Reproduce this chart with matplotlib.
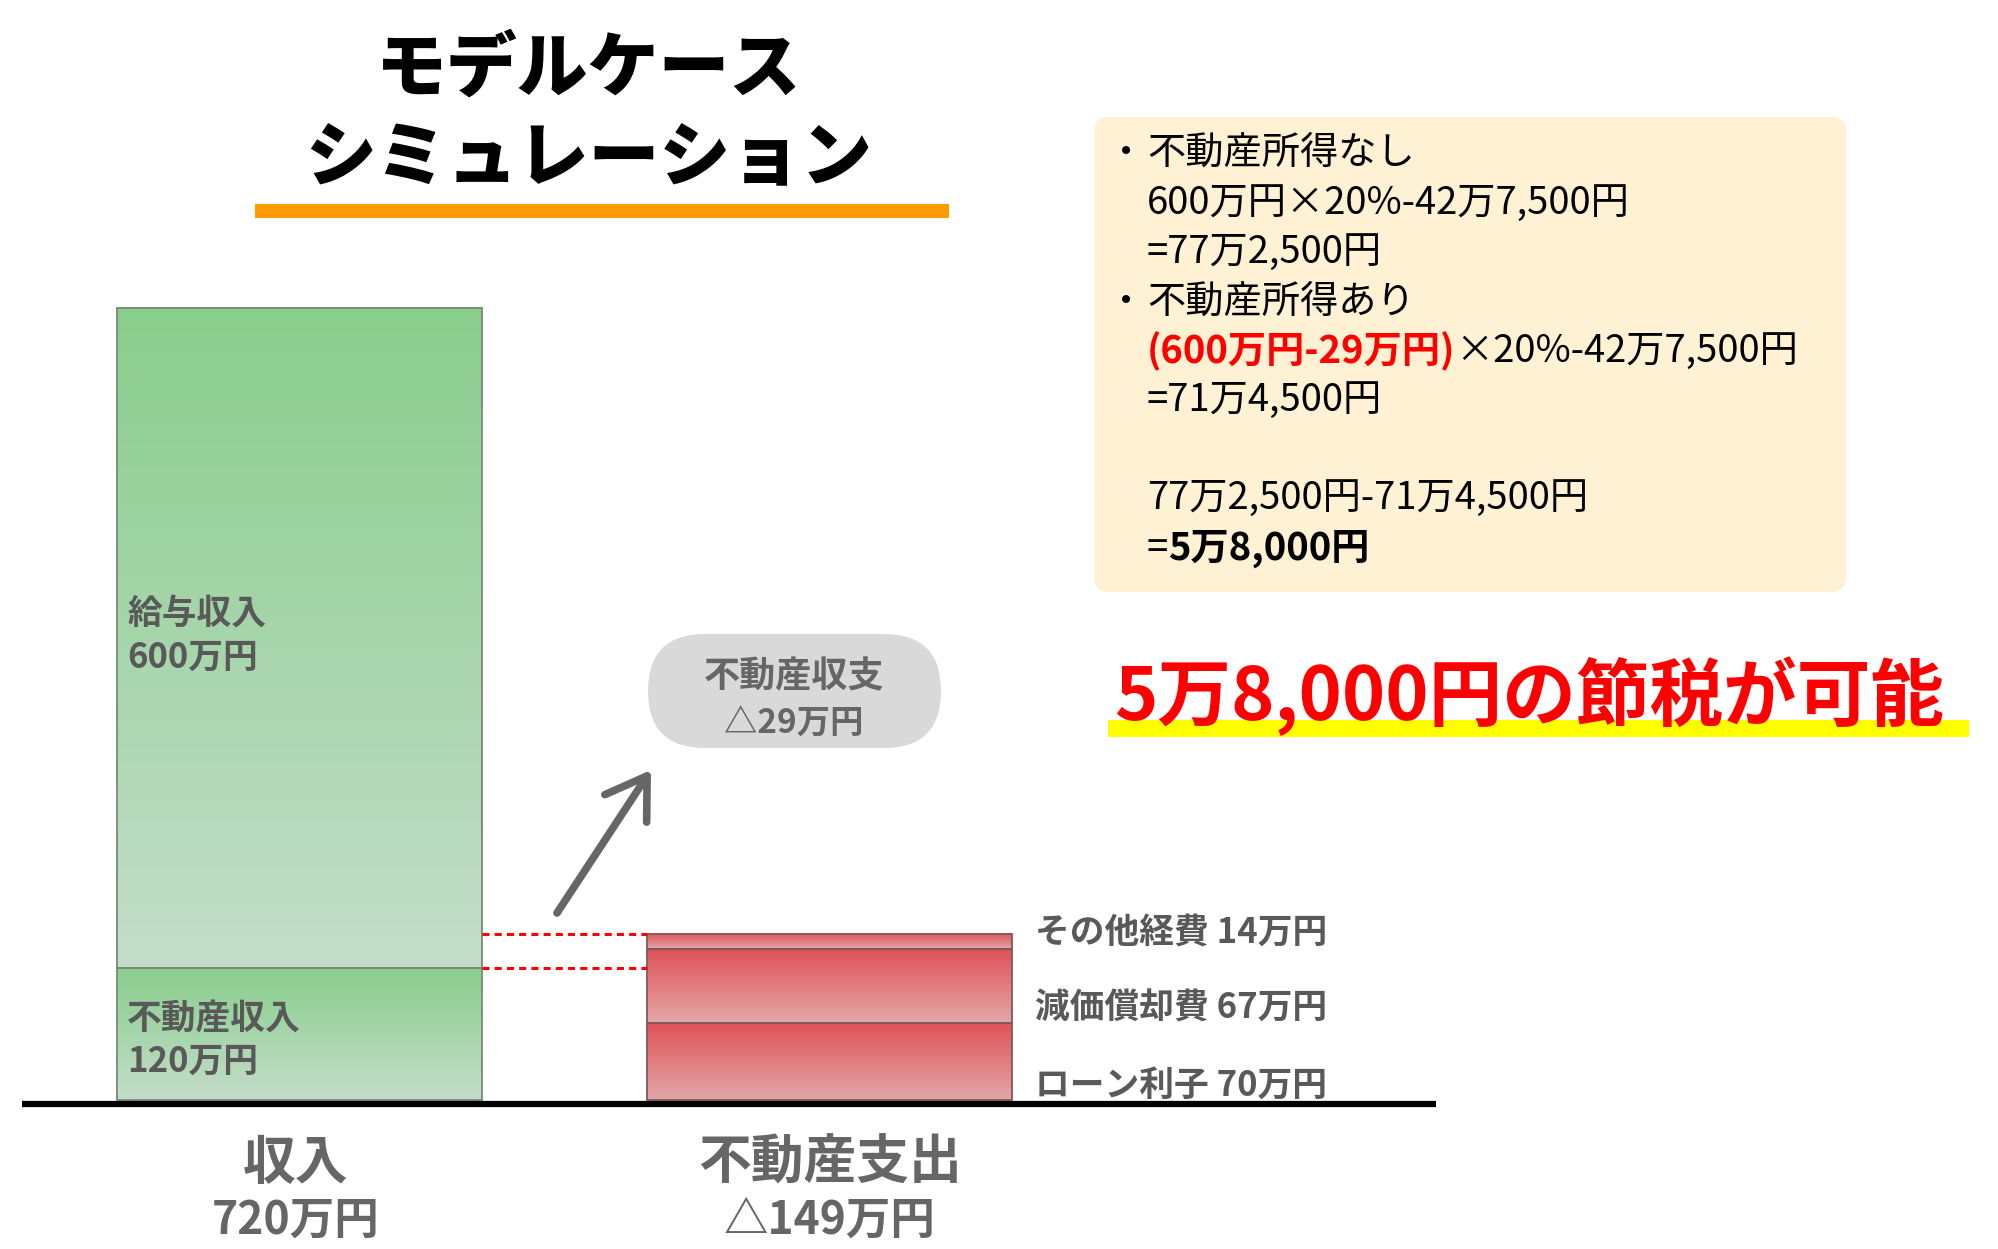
import matplotlib
matplotlib.use('Agg')
import matplotlib.pyplot as plt
import numpy as np
from matplotlib.patches import FancyBboxPatch, Rectangle
from matplotlib.colors import to_rgb

plt.rcParams['font.family'] = ['Noto Sans CJK JP', 'DejaVu Sans']

# --- data ---
categories = ['収入', '不動産支出']
category_totals = ['720万円', '△149万円']
income_names = ['不動産収入', '給与収入']
income_values = [120, 600]
expense_names = ['ローン利子', '減価償却費', 'その他経費']
expense_values = [70, 67, 14]
balance_title = '不動産収支'
balance_value = '△29万円'
headline = '5万8,000円の節税が可能'
title_lines = ['モデルケース', 'シミュレーション']

# note box: each line is a list of (text, color, weight); bullet flag
note_lines = [
    (True, [('不動産所得なし', 'black', 'normal')]),
    (False, [('600万円×20%-42万7,500円', 'black', 'normal')]),
    (False, [('=77万2,500円', 'black', 'normal')]),
    (True, [('不動産所得あり', 'black', 'normal')]),
    (False, [('(600万円-29万円)', '#FF0000', 'bold'), ('×20%-42万7,500円', 'black', 'normal')]),
    (False, [('=71万4,500円', 'black', 'normal')]),
    (False, []),
    (False, [('77万2,500円-71万4,500円', 'black', 'normal')]),
    (False, [('=', 'black', 'normal'), ('5万8,000円', 'black', 'bold')]),
]

W, H = 1999, 1249
fig = plt.figure(figsize=(W / 100, H / 100), dpi=100)
fig.patch.set_facecolor('white')

# main axes: y in 万円, 0 at pixel 1100, 1.1 px per 万円
ax = fig.add_axes([0, 0, 1, 1])
ax.axis('off')
px_per = 1.1
base_px = 1100
x_unit = 530.5
x0_px = 299.5
xlim = (-x0_px / x_unit, (W - x0_px) / x_unit)
ylim = (-(H - base_px) / px_per, base_px / px_per)
bw = 365 / x_unit


def grad_fill(x, bottom, height, top_c, bot_c, z=1):
    t = np.linspace(0, 1, 200)[:, None]
    img = (np.array(to_rgb(top_c)) * (1 - t) + np.array(to_rgb(bot_c)) * t)[:, None, :]
    ax.imshow(img, extent=[x - bw / 2, x + bw / 2, bottom, bottom + height],
              aspect='auto', origin='upper', zorder=z, interpolation='bilinear')


# income stack
bottom = 0
for v in income_values:
    grad_fill(0, bottom, v, '#89CE8C', '#C4DDCA')
    bottom += v
ax.bar([0] * len(income_values), income_values, bottom=np.cumsum([0] + income_values[:-1]),
       width=bw, fill=False, edgecolor='#778a79', linewidth=1.3, zorder=3)

# expense stack
bottom = 0
for v in expense_values:
    grad_fill(1, bottom, v, '#DF5256', '#E4A7A9')
    bottom += v
ax.bar([1] * len(expense_values), expense_values, bottom=np.cumsum([0] + expense_values[:-1]),
       width=bw, fill=False, edgecolor='#7e5a5a', linewidth=1.3, zorder=3)

# dotted connectors
exp_total = sum(expense_values)
for yv in [exp_total, income_values[0]]:
    ax.plot([bw / 2, 1 - bw / 2], [yv, yv], color='#FF0000', lw=2.2,
            linestyle=(0, (2.3, 1.7)), zorder=3)

ax.set_xlim(*xlim)
ax.set_ylim(*ylim)

# overlay in pixel coordinates
ov = fig.add_axes([0, 0, 1, 1], facecolor='none')
ov.axis('off')
ov.set_xlim(0, W)
ov.set_ylim(H, 0)

# baseline
ov.plot([22, 1436], [1104, 1104], color='black', lw=4.5, solid_capstyle='butt')

# title
ov.text(589, 70, title_lines[0], fontsize=51, fontweight='black', ha='center', va='center')
ov.text(589, 159, title_lines[1], fontsize=51, fontweight='black', ha='center', va='center')
ov.add_patch(Rectangle((255, 204), 694, 14, color='#FF9A00', lw=0))

# labels inside income bar
lab_c = '#595959'
ov.text(127, 613, income_names[1], fontsize=25, fontweight='bold', color=lab_c, va='center')
ov.text(127, 657, f'{income_values[1]}万円', fontsize=25, fontweight='bold', color=lab_c, va='center')
ov.text(127, 1019, income_names[0], fontsize=25, fontweight='bold', color=lab_c, va='center')
ov.text(127, 1061, f'{income_values[0]}万円', fontsize=25, fontweight='bold', color=lab_c, va='center')

# expense labels on the right
for name, v, yy in zip(expense_names, expense_values, [1085, 1008, 933]):
    ov.text(1035, yy, f'{name} {v}万円', fontsize=25, fontweight='bold', color=lab_c, va='center')

# category labels
cat_c = '#666666'
for cx, cat, tot in zip([296, 830], categories, category_totals):
    ov.text(cx, 1163, cat, fontsize=38, fontweight='bold', color=cat_c, ha='center', va='center')
    ov.text(cx, 1221, tot, fontsize=32, fontweight='bold', color=cat_c, ha='center', va='center')

# balance pill + arrow
ov.add_patch(FancyBboxPatch((648, 634), 293, 114, boxstyle='round,pad=0,rounding_size=57',
                            facecolor='#D9D9D9', edgecolor='none'))
ov.text(794, 677, balance_title, fontsize=26, fontweight='bold', color=cat_c, ha='center', va='center')
ov.text(794, 723, balance_value, fontsize=24, fontweight='bold', color=cat_c, ha='center', va='center')
ov.annotate('', xy=(651, 770), xytext=(557, 913),
            arrowprops=dict(arrowstyle='->,head_length=0.7,head_width=0.45', lw=5.5,
                            color='#666666', mutation_scale=40, capstyle='round',
                            joinstyle='round', shrinkA=0, shrinkB=0))

# note box
ov.add_patch(FancyBboxPatch((1094, 117), 752, 475, boxstyle='round,pad=0,rounding_size=15',
                            facecolor='#FFF1D3', edgecolor='none'))
fig.canvas.draw()
renderer = fig.canvas.get_renderer()
line_ys = [153, 203, 252, 302, 351, 400, 449, 498, 548]
for (bullet, parts), yy in zip(note_lines, line_ys):
    if bullet:
        ov.text(1126, yy, '・', fontsize=27.5, ha='center', va='center')
    xx = 1147
    for txt, col, wt in parts:
        t = ov.text(xx, yy, txt, fontsize=27.5, color=col, fontweight=wt, va='center')
        bb = t.get_window_extent(renderer)
        xx += bb.width

# headline
ov.add_patch(Rectangle((1108, 720), 861, 17, color='#FFFF00', lw=0))
ov.text(1114, 696, headline, fontsize=53, fontweight='bold', color='#FF0000', va='center')

fig.savefig('out.png', dpi=100, facecolor='white')
